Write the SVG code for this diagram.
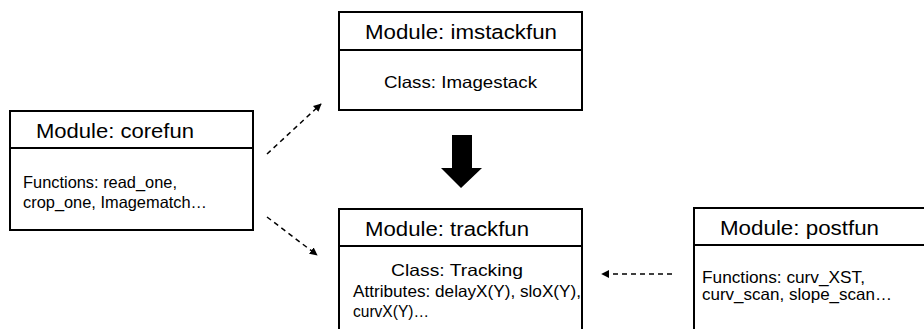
<svg xmlns="http://www.w3.org/2000/svg" width="924" height="329" viewBox="0 0 924 329">
  <style>
    .box { fill: #ffffff; stroke: #000000; stroke-width: 2; }
    .div { stroke: #000000; stroke-width: 2; }
    .title { font-family: "Liberation Sans", Arial, sans-serif; font-size: 20.5px; fill: #000000; }
    .body { font-family: "Liberation Sans", Arial, sans-serif; font-size: 16.5px; fill: #000000; }
    .dash { fill: none; stroke: #000000; stroke-width: 1.5; stroke-dasharray: 5 4; }
  </style>
  <defs>
    <marker id="tip" viewBox="0 0 10 10" refX="9" refY="5" markerWidth="8" markerHeight="8" markerUnits="userSpaceOnUse" orient="auto">
      <path d="M0,0 L10,5 L0,10 Z" fill="#000000"/>
    </marker>
  </defs>
  <rect width="924" height="329" fill="#ffffff"/>

  <g id="corefun">
    <rect class="box" x="10" y="111" width="243" height="119"/>
    <line class="div" x1="10" y1="148" x2="253" y2="148"/>
    <text class="title" x="36" y="138" textLength="158" lengthAdjust="spacingAndGlyphs">Module: corefun</text>
    <text class="body" x="23" y="188" textLength="154" lengthAdjust="spacingAndGlyphs">Functions: read_one,</text>
    <text class="body" x="23" y="208" textLength="184" lengthAdjust="spacingAndGlyphs">crop_one, Imagematch…</text>
  </g>

  <g id="imstackfun">
    <rect class="box" x="339" y="12" width="243" height="98"/>
    <line class="div" x1="339" y1="50" x2="582" y2="50"/>
    <text class="title" x="365" y="39" textLength="192" lengthAdjust="spacingAndGlyphs">Module: imstackfun</text>
    <text class="body" x="384" y="88" textLength="153" lengthAdjust="spacingAndGlyphs">Class: Imagestack</text>
  </g>

  <g id="trackfun">
    <rect class="box" x="339" y="209" width="243" height="140"/>
    <line class="div" x1="339" y1="246" x2="582" y2="246"/>
    <text class="title" x="365" y="236" textLength="164" lengthAdjust="spacingAndGlyphs">Module: trackfun</text>
    <text class="body" x="391" y="276" textLength="132" lengthAdjust="spacingAndGlyphs">Class: Tracking</text>
    <text class="body" x="353" y="297" textLength="228" lengthAdjust="spacingAndGlyphs">Attributes: delayX(Y), sloX(Y),</text>
    <text class="body" x="353" y="317" textLength="76" lengthAdjust="spacingAndGlyphs">curvX(Y)…</text>
  </g>

  <g id="postfun">
    <rect class="box" x="694" y="208" width="260" height="140"/>
    <line class="div" x1="694" y1="245" x2="924" y2="245"/>
    <text class="title" x="720" y="235" textLength="159" lengthAdjust="spacingAndGlyphs">Module: postfun</text>
    <text class="body" x="702" y="283" textLength="163" lengthAdjust="spacingAndGlyphs">Functions: curv_XST,</text>
    <text class="body" x="702" y="300" textLength="190" lengthAdjust="spacingAndGlyphs">curv_scan, slope_scan…</text>
  </g>

  <g id="connectors">
    <line class="dash" x1="267" y1="154" x2="321" y2="104" marker-end="url(#tip)"/>
    <line class="dash" x1="267" y1="217" x2="317" y2="255" marker-end="url(#tip)"/>
    <line class="dash" x1="672" y1="274" x2="602" y2="274" marker-end="url(#tip)"/>
    <!-- solid block arrow from imstackfun down to trackfun -->
    <path d="M452,135 L472,135 L472,168 L482,168 L461,188 L441,168 L452,168 Z" fill="#000000"/>
  </g>
</svg>
